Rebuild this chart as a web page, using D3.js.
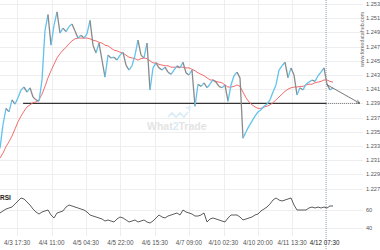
<!DOCTYPE html>
<html>
<head>
<meta charset="utf-8">
<style>
  body { margin: 0; background: #fff; font-family: "Liberation Sans", Arial, sans-serif; }
  .grid line { stroke: #eeeeee; stroke-width: 1; shape-rendering: crispEdges; }
  .lbl { fill: #555; font-size: 6.3px; }
  .ylbl { fill: #555; font-size: 5.6px; }
</style>
</head>
<body>
<script src="https://d3js.org/d3.v7.min.js"></script>
<script>
// values, one point per ~3px of time
var price = [1.2327,1.2360,1.2383,1.2378,1.2395,1.2389,1.2398,1.2409,1.2413,1.2406,
  1.2412,1.2399,1.2395,1.2393,1.2423,1.2493,1.2515,1.2472,1.2500,1.2519,
  1.2489,1.2496,1.2491,1.2498,1.2502,1.2492,1.2482,1.2486,1.2482,1.2488,
  1.2507,1.2472,1.2461,1.2475,1.2451,1.2427,1.2458,1.2454,1.2455,1.2451,
  1.2458,1.2462,1.2444,1.2437,1.2443,1.2458,1.2479,1.2458,1.2454,1.2475,
  1.2409,1.2440,1.2447,1.2440,1.2437,1.2441,1.2434,1.2431,1.2437,1.2443,
  1.2440,1.2448,1.2433,1.2430,1.2437,1.2386,1.2417,1.2414,1.2419,1.2412,
  1.2417,1.2423,1.2420,1.2414,1.2412,1.2416,1.2393,1.2416,1.2429,1.2434,
  1.2426,1.2341,1.2350,1.2358,1.2365,1.2372,1.2378,1.2381,1.2386,1.2389,
  1.2395,1.2406,1.2416,1.2437,1.2443,1.2448,1.2426,1.2440,1.2430,1.2402,
  1.2412,1.2409,1.2417,1.2420,1.2423,1.2421,1.2429,1.2434,1.2440,1.2417,
  1.2409,1.2412];

var ma = [1.2313,1.2320,1.2329,1.2336,1.2344,1.2354,1.2364,1.2372,1.2379,1.2385,
  1.2388,1.2391,1.2392,1.2395,1.2403,1.2414,1.2426,1.2436,1.2445,1.2454,
  1.2460,1.2465,1.2469,1.2474,1.2478,1.2481,1.2482,1.2482,1.2482,1.2482,
  1.2481,1.2479,1.2478,1.2476,1.2475,1.2472,1.2471,1.2468,1.2465,1.2464,
  1.2462,1.2461,1.2458,1.2455,1.2454,1.2453,1.2451,1.2453,1.2454,1.2453,
  1.2450,1.2447,1.2447,1.2445,1.2444,1.2443,1.2443,1.2441,1.2441,1.2441,
  1.2441,1.2441,1.2440,1.2440,1.2438,1.2436,1.2433,1.2431,1.2429,1.2426,
  1.2423,1.2423,1.2421,1.2420,1.2419,1.2416,1.2413,1.2413,1.2414,1.2416,
  1.2414,1.2406,1.2398,1.2392,1.2388,1.2385,1.2383,1.2383,1.2385,1.2386,
  1.2388,1.2391,1.2395,1.2399,1.2403,1.2407,1.2410,1.2412,1.2413,1.2413,
  1.2414,1.2414,1.2416,1.2417,1.2417,1.2419,1.2420,1.2421,1.2423,1.2423,
  1.2421,1.2420];

var rsi = [56.6,58.9,61.1,62.3,63.4,66.9,70.3,73.7,72.6,69.1,
  65.7,61.1,57.7,55.4,57.7,58.9,60,54.3,50.9,56.6,
  57.7,58.9,63.4,65.7,64.6,63.4,62.3,61.1,60,57.7,
  54.3,53.1,52,50.9,49.7,47.4,48.6,47.4,46.3,49.7,
  52,50.9,48.6,46.3,47.4,48.6,46.3,47.4,48.6,46.3,
  45.1,47.4,50.9,54.3,52,50.9,53.1,54.3,55.4,56.6,
  54.3,60,57.7,56.6,55.4,53.1,53.1,54.3,56.6,46.3,
  49.7,50.9,49.7,48.6,47.4,46.3,50.9,54.3,54.3,54.3,
  52,48.6,49.7,50.9,52,54.3,55.4,58.9,61.1,63.4,
  66.9,71.4,73.7,71.4,70.3,71.4,72.6,73.7,65.7,60,
  60,60,60,62.3,63.4,62.3,63.4,62.3,63.4,62.3,
  64.6,64.6];

var timeLabels = ["4/3 17:30","4/4 11:00","4/5 04:30","4/5 22:00","4/6 15:30",
  "4/7 09:00","4/10 02:30","4/10 20:00","4/11 13:30","4/12 07:30"];
var timeTicks = [5.7, 17.2, 28.6, 40.1, 51.6, 63.0, 74.5, 86.0, 97.4, 108.2];
var priceTicks = [1.253,1.251,1.249,1.247,1.245,1.243,1.241,1.239,1.237,1.235,1.233,1.231,1.229,1.227];
var rsiTicks = [60, 40];

var support = 1.239, supportStart = 7.7, nowIdx = 108.7, targetIdx = 120;

var W = 380, H = 250;

var x = d3.scaleLinear().domain([0, 120]).range([0, 360]);
var y = d3.scaleLinear().domain([1.227, 1.253]).range([188.6, 4]);
var yr = d3.scaleLinear().domain([40, 60]).range([227.5, 210]);

var svg = d3.select("body").append("svg")
    .attr("width", W)
    .attr("height", H);

// grid
var grid = svg.append("g").attr("class", "grid");
grid.selectAll(".v").data(timeTicks.slice(0, 9)).enter().append("line")
    .attr("x1", function(d) { return Math.round(x(d)) + 0.5; })
    .attr("x2", function(d) { return Math.round(x(d)) + 0.5; })
    .attr("y1", 0).attr("y2", 236);
grid.selectAll(".h").data(priceTicks).enter().append("line")
    .attr("x1", 0).attr("x2", 363)
    .attr("y1", function(d) { return Math.round(y(d)) + 0.5; })
    .attr("y2", function(d) { return Math.round(y(d)) + 0.5; });
grid.selectAll(".r").data(rsiTicks).enter().append("line")
    .attr("x1", 0).attr("x2", 363)
    .attr("y1", function(d) { return Math.round(yr(d)) + 0.5; })
    .attr("y2", function(d) { return Math.round(yr(d)) + 0.5; });

// watermark
var wm = svg.append("g").attr("opacity", 0.9);
wm.append("path")
    .attr("d", "M168,117 l4,-4 l4,4 l4,-4 l4,4 l4,-5 M186,108 l4,-1 l-1,4")
    .attr("fill", "none").attr("stroke", "#d3ebf7").attr("stroke-width", 1.6);
var wt = wm.append("text")
    .attr("x", 147).attr("y", 130)
    .style("font-size", "10.5px").style("font-weight", "bold")
    .style("fill", "#e2e2e2");
wt.append("tspan").text("What");
wt.append("tspan").style("fill", "#d3ebf7").text("2");
wt.append("tspan").text("Trade");

svg.append("text")
    .attr("transform", "translate(364,67) rotate(-90)")
    .style("font-size", "5.3px").style("fill", "#666")
    .text("www.forexdatahub.com");

// support level
svg.append("line")
    .attr("x1", x(supportStart)).attr("x2", x(nowIdx))
    .attr("y1", y(support)).attr("y2", y(support))
    .attr("stroke", "#333").attr("stroke-width", 1.4);
svg.append("line")
    .attr("x1", x(nowIdx)).attr("x2", x(targetIdx))
    .attr("y1", y(support)).attr("y2", y(support))
    .attr("stroke", "#555").attr("stroke-width", 0.8)
    .attr("stroke-dasharray", "1,1");

// moving average
var line = d3.line()
    .x(function(d, i) { return x(i); })
    .y(function(d) { return y(d); });
svg.append("path")
    .datum(ma)
    .attr("d", line)
    .attr("fill", "none")
    .attr("stroke", "#f26d6d")
    .attr("stroke-width", 1);

// price, coloured by direction
var segs = d3.range(1, price.length).map(function(i) { return [i - 1, i]; });
svg.append("g").selectAll("line").data(segs).enter().append("line")
    .attr("x1", function(d) { return x(d[0]); })
    .attr("x2", function(d) { return x(d[1]); })
    .attr("y1", function(d) { return y(price[d[0]]); })
    .attr("y2", function(d) { return y(price[d[1]]); })
    .attr("stroke", function(d) { return price[d[1]] >= price[d[0]] ? "#62c2ec" : "#8a8a8a"; })
    .attr("stroke-width", 1.3);

// arrow to target
svg.append("defs").append("marker")
    .attr("id", "ah").attr("viewBox", "0 0 10 10")
    .attr("refX", 9).attr("refY", 5)
    .attr("markerWidth", 6).attr("markerHeight", 6)
    .attr("orient", "auto")
    .append("path").attr("d", "M0,1 L9,5 L0,9").attr("fill", "none")
    .attr("stroke", "#555").attr("stroke-width", 1.2);
svg.append("line")
    .attr("x1", x(nowIdx)).attr("y1", y(price[price.length - 3]))
    .attr("x2", x(targetIdx)).attr("y2", y(support))
    .attr("stroke", "#555").attr("stroke-width", 0.8)
    .attr("marker-end", "url(#ah)");

// now marker
svg.append("line")
    .attr("x1", x(nowIdx)).attr("x2", x(nowIdx))
    .attr("y1", 0).attr("y2", H)
    .attr("stroke", "#8c9cac").attr("stroke-width", 1)
    .attr("stroke-dasharray", "1,1");

// rsi
svg.append("path")
    .datum(rsi)
    .attr("d", d3.line().x(function(d, i) { return x(i); }).y(function(d) { return yr(d); }))
    .attr("fill", "none")
    .attr("stroke", "#333")
    .attr("stroke-width", 0.8);

svg.append("text")
    .attr("x", 0).attr("y", 200)
    .style("font-size", "6.5px").style("font-weight", "bold").style("fill", "#222")
    .text("RSI");

// axis labels
svg.selectAll(".pl").data(priceTicks).enter().append("text")
    .attr("class", "ylbl")
    .attr("x", 366)
    .attr("y", function(d) { return y(d) + 2; })
    .text(function(d) { return d3.format(".3f")(d); });
svg.selectAll(".rl").data(rsiTicks).enter().append("text")
    .attr("class", "ylbl")
    .attr("x", 366)
    .attr("y", function(d) { return yr(d) + 2; })
    .text(function(d) { return d; });
svg.selectAll(".tl").data(timeLabels).enter().append("text")
    .attr("class", "lbl")
    .attr("x", function(d, i) { return x(timeTicks[i]); })
    .attr("y", 245)
    .attr("text-anchor", "middle")
    .style("fill", function(d, i) { return i === timeLabels.length - 1 ? "#222" : "#555"; })
    .text(function(d) { return d; });
</script>
</body>
</html>
